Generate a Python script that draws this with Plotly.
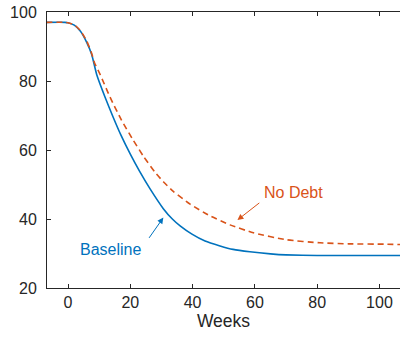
import plotly.graph_objects as go

weeks_base = [-7, -1, 0, 2, 4, 6, 7.6, 9.2, 11.9, 14.5, 17, 20, 23, 26.3, 30.6, 33.5, 36, 39.8, 44, 48.8, 53, 58.4, 65, 70, 80, 107]
baseline = [97, 97, 96.9, 96.2, 94.4, 91.2, 87.7, 81.9, 75.3, 69.5, 64.3, 58.8, 53.8, 48.8, 43, 40, 38, 35.6, 33.6, 32.2, 31.2, 30.5, 29.9, 29.6, 29.4, 29.4]

weeks_nodebt = [-7, -1, 0, 2, 4, 6, 7.6, 8.5, 10.3, 13.5, 17.2, 20.9, 24.2, 27.9, 30.6, 33.8, 39.2, 45.6, 52, 59.5, 70, 80.9, 90, 102, 107]
no_debt = [97, 97, 96.9, 96.3, 94.6, 91.6, 88, 85.3, 81.9, 75.3, 68.6, 62.9, 58.2, 53.6, 50.8, 48, 44.3, 40.9, 38.3, 36, 34, 33.1, 32.8, 32.7, 32.6]

x_ticks = [0, 20, 40, 60, 80, 100]
y_ticks = [20, 40, 60, 80, 100]

BLUE = "#0072BD"
ORANGE = "#D95319"
AX = "#262626"
FONT = "Liberation Sans, Arial, Helvetica, sans-serif"

fig = go.Figure()
fig.add_trace(go.Scatter(x=weeks_base, y=baseline, mode="lines", line=dict(color=BLUE, width=1.6, shape="spline", smoothing=0.5), name="Baseline"))
fig.add_trace(go.Scatter(x=weeks_nodebt, y=no_debt, mode="lines", line=dict(color=ORANGE, width=1.6, dash="6px,4px", shape="spline", smoothing=0.5), name="No Debt"))

fig.add_annotation(x=30.6, y=40.4, ax=25.7, ay=34.1, xref="x", yref="y", axref="x", ayref="y",
                   text="", showarrow=True, arrowhead=2, arrowsize=1.2, arrowwidth=1, arrowcolor=BLUE)
fig.add_annotation(x=13.5, y=31.2, text="Baseline", showarrow=False, font=dict(color=BLUE, size=16, family=FONT))
fig.add_annotation(x=54.4, y=39.7, ax=61.9, ay=45, xref="x", yref="y", axref="x", ayref="y",
                   text="", showarrow=True, arrowhead=2, arrowsize=1.2, arrowwidth=1, arrowcolor=ORANGE)
fig.add_annotation(x=72.3, y=47.8, text="No Debt", showarrow=False, font=dict(color=ORANGE, size=16, family=FONT))

fig.update_layout(
    width=400, height=339,
    margin=dict(l=47, r=0, t=12, b=51),
    paper_bgcolor="white", plot_bgcolor="white",
    showlegend=False,
    font=dict(family=FONT, size=16, color=AX),
    xaxis=dict(range=[-6.75, 106.6], tickvals=x_ticks, ticks="inside", ticklen=4, tickcolor=AX,
               showline=True, linecolor=AX, linewidth=1, mirror="ticks", showgrid=False, zeroline=False,
               title=dict(text="Weeks", font=dict(size=17.5), standoff=4), tickfont=dict(size=16)),
    yaxis=dict(range=[20, 100], tickvals=y_ticks, ticks="inside", ticklen=4, tickcolor=AX,
               showline=True, linecolor=AX, linewidth=1, showgrid=False, zeroline=False,
               tickfont=dict(size=16), ticklabelstandoff=6),
)

fig.write_html("out.html")
